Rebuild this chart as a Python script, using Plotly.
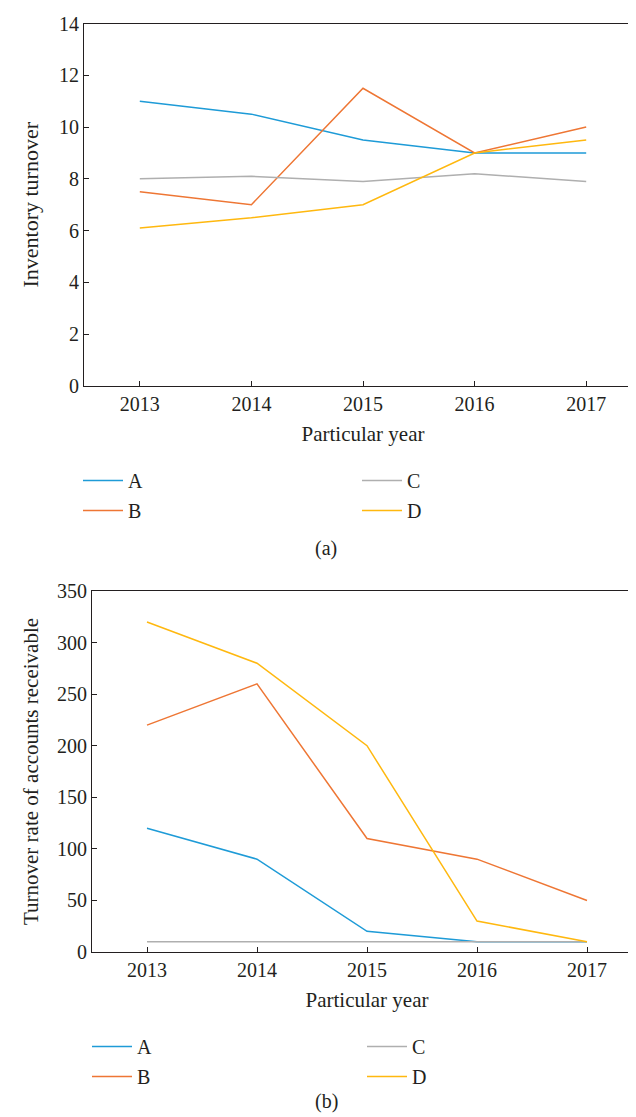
import plotly.graph_objects as go

years = [2013, 2014, 2015, 2016, 2017]
series_names = ["A", "B", "C", "D"]
colors = {"A": "#1E9BD7", "B": "#EE7634", "C": "#AFAFAF", "D": "#FFB80F"}

inv_A = [11, 10.5, 9.5, 9, 9]
inv_B = [7.5, 7, 11.5, 9, 10]
inv_C = [8, 8.1, 7.9, 8.2, 7.9]
inv_D = [6.1, 6.5, 7, 9, 9.5]

ar_A = [120, 90, 20, 10, 10]
ar_B = [220, 260, 110, 90, 50]
ar_C = [10, 10, 10, 10, 10]
ar_D = [320, 280, 200, 30, 10]

top_vals = {"A": inv_A, "B": inv_B, "C": inv_C, "D": inv_D}
bot_vals = {"A": ar_A, "B": ar_B, "C": ar_C, "D": ar_D}

W, H = 636, 1117
FONT = "Liberation Serif"
TXT = "#231f20"
FS = 20
TFS = 21

fig = go.Figure()

legend_map_top = {"A": "legend", "B": "legend", "C": "legend2", "D": "legend2"}
legend_map_bot = {"A": "legend3", "B": "legend3", "C": "legend4", "D": "legend4"}

for n in series_names:
    fig.add_trace(go.Scatter(x=years, y=top_vals[n], mode="lines", name=n,
                             line=dict(color=colors[n], width=1.5),
                             legend=legend_map_top[n], legendgroup="t" + n,
                             xaxis="x", yaxis="y"))
for n in series_names:
    fig.add_trace(go.Scatter(x=years, y=bot_vals[n], mode="lines", name=n,
                             line=dict(color=colors[n], width=1.5),
                             legend=legend_map_bot[n], legendgroup="b" + n,
                             xaxis="x2", yaxis="y2"))

def px_x(p):
    return p / W

def px_y(p):
    return 1 - p / H

axis_common = dict(showline=True, linecolor=TXT, linewidth=1.2, mirror=True,
                   ticks="inside", ticklen=5, tickcolor=TXT, showgrid=False,
                   zeroline=False, tickfont=dict(family=FONT, size=FS, color=TXT),
                   automargin=False)
title_font = dict(family=FONT, size=TFS, color=TXT)

fig.update_layout(
    width=W, height=H,
    margin=dict(l=0, r=0, t=0, b=0),
    paper_bgcolor="white", plot_bgcolor="white",
    font=dict(family=FONT, size=FS, color=TXT),
    xaxis=dict(domain=[px_x(76), px_x(634)], range=[2012.5, 2017.5],
               tickvals=years, anchor="y",
               title=dict(text="Particular year", font=title_font, standoff=12),
               **axis_common),
    yaxis=dict(domain=[px_y(378), px_y(15.5)], range=[0, 14], dtick=2, anchor="x",
               title=dict(text="Inventory turnover", font=dict(family=FONT, size=22, color=TXT), standoff=14),
               **axis_common),
    xaxis2=dict(domain=[px_x(84), px_x(634)], range=[2012.5, 2017.5],
                tickvals=years, anchor="y2",
                title=dict(text="Particular year", font=title_font, standoff=12),
                **axis_common),
    yaxis2=dict(domain=[px_y(944), px_y(583)], range=[0, 350], dtick=50, anchor="x2",
                title=dict(text="Turnover rate of accounts receivable", font=title_font, standoff=12),
                **axis_common),
)

leg_common = dict(orientation="v", bgcolor="rgba(0,0,0,0)", borderwidth=0,
                  font=dict(family=FONT, size=FS, color=TXT), itemwidth=40,
                  tracegroupgap=1, xanchor="left", yanchor="top")
fig.update_layout(
    legend=dict(x=px_x(70), y=px_y(453), **leg_common),
    legend2=dict(x=px_x(349), y=px_y(453), **leg_common),
    legend3=dict(x=px_x(79), y=px_y(1019), **leg_common),
    legend4=dict(x=px_x(354), y=px_y(1019), **leg_common),
)

fig.add_annotation(text="(a)", x=px_x(318), y=px_y(540), xref="paper", yref="paper",
                   showarrow=False, font=dict(family=FONT, size=FS, color=TXT))
fig.add_annotation(text="(b)", x=px_x(318), y=px_y(1107), xref="paper", yref="paper",
                   showarrow=False, font=dict(family=FONT, size=FS, color=TXT))

fig.write_html("out.html")
